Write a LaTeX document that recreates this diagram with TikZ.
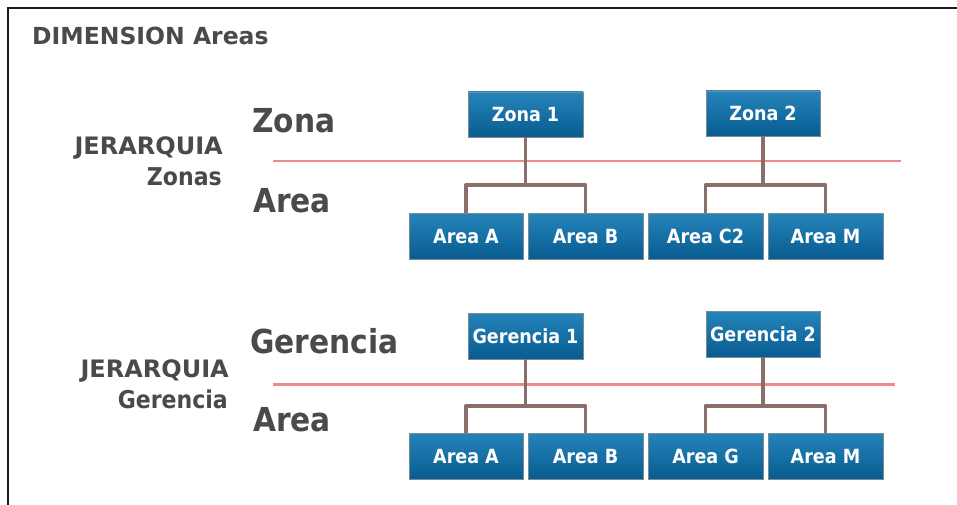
\documentclass[tikz,border=0pt]{standalone}
\usepackage{fontspec}
\setmainfont{DejaVu Sans}
\newfontfamily\labelfont{DejaVu Sans Bold}
\newfontfamily\condfont{DejaVu Sans Condensed Bold}
\definecolor{labelgray}{HTML}{4A4A4A}
\definecolor{levelred}{HTML}{F08A8A}
\definecolor{linkbrown}{HTML}{8A6E69}
\definecolor{boxtop}{HTML}{2584BA}
\definecolor{boxbottom}{HTML}{085C91}
\definecolor{boxedge}{HTML}{7E8A92}
\definecolor{framecol}{HTML}{1A1A1A}
\tikzset{
  unitbox/.style={rectangle, draw=boxedge, line width=0.8pt, top color=boxtop, bottom color=boxbottom,
    text=white, font=\condfont\fontsize{19.5}{20}\selectfont, minimum width=115pt, minimum height=46pt,
    inner sep=0pt, text height=14pt, text depth=0pt},
  heading/.style={inner sep=0pt, anchor=base west, text=labelgray, font=\labelfont\fontsize{23.5}{24}\selectfont},
  levelname/.style={inner sep=0pt, anchor=base west, text=labelgray, font=\condfont\fontsize{33}{33}\selectfont},
  hiercaps/.style={inner sep=0pt, anchor=base east, text=labelgray, font=\labelfont\fontsize{24}{24}\selectfont},
  hiername/.style={inner sep=0pt, anchor=base east, text=labelgray, font=\condfont\fontsize{24.5}{25}\selectfont},
  levelline/.style={draw=levelred, line width=2.6pt},
  link/.style={draw=linkbrown, line width=3.4pt, line join=round},
}
\begin{document}
\begin{tikzpicture}[x=1pt,y=-1pt]
\useasboundingbox[fill=white] (0,0) rectangle (957,505);
% open frame: top and left edges
\draw[framecol, line width=2pt] (8,505) -- (8,8) -- (957,8);

\node[heading] (title) at (32,45) {DIMENSION Areas};

% ---------- zone hierarchy ----------
\node[levelname] (lvZona) at (252,133) {Zona};
\node[levelname] (lvAreaZ) at (253,212) {Area};
\node[hiercaps] (jerZ) at (223,155) {JERARQUIA};
\node[hiername] (jerZname) at (222,185) {Zonas};
\coordinate (rzL) at (273,161);
\coordinate (rzR) at (901,161);
\draw[levelline] (rzL) -- (rzR);

\node[unitbox, minimum width=115pt, minimum height=45pt] (z1) at (525.5,114.5) {Zona 1};
\node[unitbox, minimum width=114pt, minimum height=45pt] (z2) at (763,113.5) {Zona 2};
\node[unitbox, minimum width=114pt] (zA) at (466,236) {Area A};
\node[unitbox] (zB) at (585.5,236) {Area B};
\node[unitbox] (zC) at (705.5,236) {Area C2};
\node[unitbox] (zM) at (825.5,236) {Area M};

\coordinate (barZ) at (0,185);
\draw[link] (z1.south) |- (zA.north |- barZ) -- (zA.north);
\draw[link] (z1.south) |- (zB.north |- barZ) -- (zB.north);
\draw[link] (z2.south) |- (zC.north |- barZ) -- (zC.north);
\draw[link] (z2.south) |- (zM.north |- barZ) -- (zM.north);

% ---------- management hierarchy ----------
\node[levelname] (lvGer) at (250,353) {Gerencia};
\node[levelname] (lvAreaG) at (253,431) {Area};
\node[hiercaps] (jerG) at (229,377) {JERARQUIA};
\node[hiername] (jerGname) at (228,408) {Gerencia};
\coordinate (rgL) at (273,384);
\coordinate (rgR) at (895,384);
\draw[levelline, line width=3pt] (rgL) -- (rgR);

\node[unitbox] (g1) at (525.5,336) {Gerencia 1};
\node[unitbox, minimum width=114pt] (g2) at (763,334) {Gerencia 2};
\node[unitbox, minimum width=114pt] (gA) at (466,456) {Area A};
\node[unitbox] (gB) at (585.5,456) {Area B};
\node[unitbox] (gG) at (705.5,456) {Area G};
\node[unitbox] (gM) at (825.5,456) {Area M};

\coordinate (barG) at (0,406);
\draw[link] (g1.south) |- (gA.north |- barG) -- (gA.north);
\draw[link] (g1.south) |- (gB.north |- barG) -- (gB.north);
\draw[link] (g2.south) |- (gG.north |- barG) -- (gG.north);
\draw[link] (g2.south) |- (gM.north |- barG) -- (gM.north);
\end{tikzpicture}
\end{document}
